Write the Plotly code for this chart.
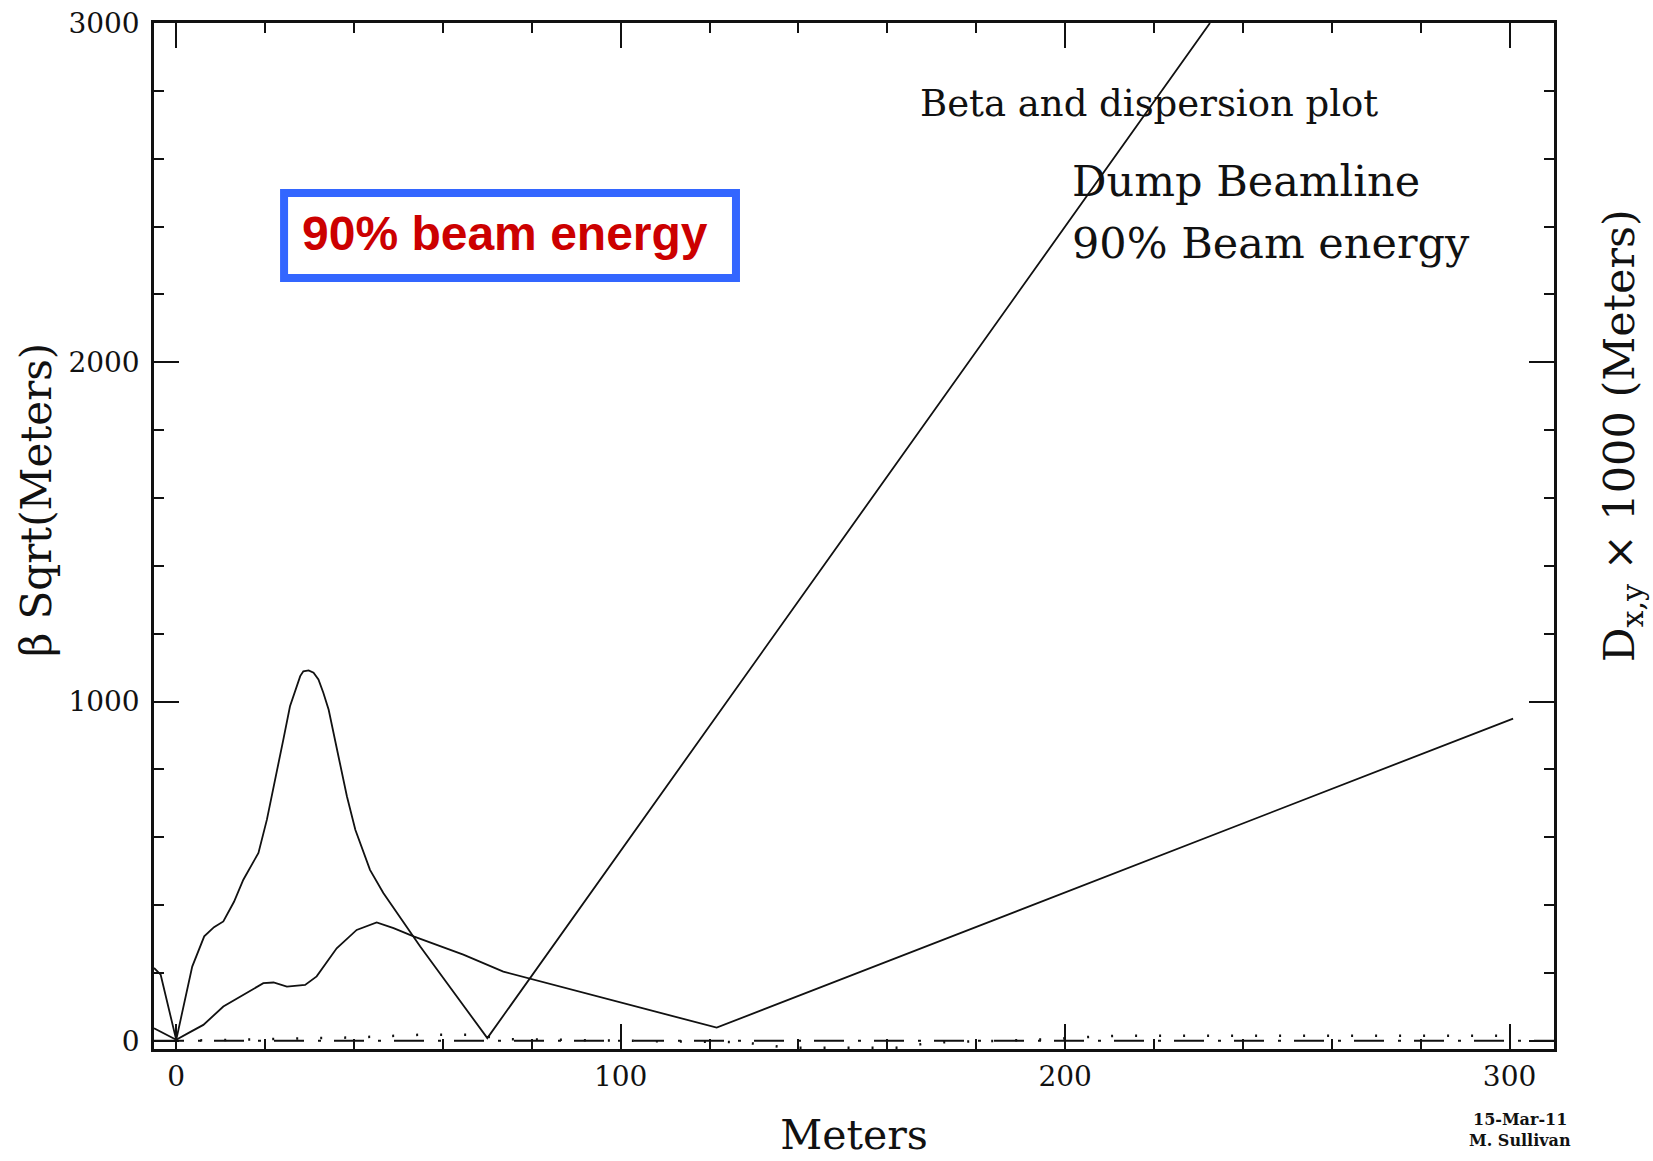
import plotly.graph_objects as go

# ---- data ----
beta1_s = [-5, -3.5, 0, 3.6, 6.3, 8.5, 10.6, 13, 15.1, 18.5, 20.4, 22.3, 24.1, 25.6, 26.8,
           27.9, 28.6, 29.8, 30.9, 32.0, 33.1, 34.3, 36.5, 38.4, 40.3, 43.6, 46.6, 54.9, 70, 232.6]
beta1_v = [215, 195, 3, 219, 308, 335, 352, 410, 475, 554, 652, 770, 888, 986, 1035,
           1075, 1089, 1092, 1085, 1065, 1026, 976, 839, 721, 622, 504, 436, 278, 8, 3000]

beta2_s = [-5, 0, 3, 6.1, 10.6, 15.1, 19.6, 21.9, 24.9, 29.0, 31.6, 36.1, 40.6,
           45.1, 48.9, 53.4, 64.6, 73.6, 121.6, 300.8]
beta2_v = [37, 3, 25, 47, 101, 136, 170, 172, 160, 165, 190, 273, 327,
           349, 332, 308, 254, 204, 39, 950]

disp1_s = [-5, 0, 50, 100, 150, 200, 250, 310]
disp1_v = [0, 0, 0, 0, 0, 0, 0, 0]

disp2_s = [0, 40, 55, 66, 75, 100, 121, 126, 131, 137, 162, 168, 173, 184, 195, 206, 212, 300]
disp2_v = [0, 10, 18, 18, 5, 0, -2, -4, -9, -20, -20, -9, -4, 0, 4, 12, 15, 15]

x_ticks = [0, 100, 200, 300]
y_ticks = [0, 1000, 2000, 3000]

FONT = "DejaVu Serif"
BLK = "#111111"

fig = go.Figure()
fig.add_trace(go.Scatter(x=beta1_s, y=beta1_v, mode="lines",
                         line=dict(color=BLK, width=1.8), name="beta x"))
fig.add_trace(go.Scatter(x=beta2_s, y=beta2_v, mode="lines",
                         line=dict(color=BLK, width=1.8), name="beta y"))
fig.add_trace(go.Scatter(x=disp1_s, y=disp1_v, mode="lines",
                         line=dict(color=BLK, width=2, dash="30px,14px,3px,13px"), name="Dx"))
fig.add_trace(go.Scatter(x=disp2_s, y=disp2_v, mode="lines",
                         line=dict(color=BLK, width=2.5, dash="2px,22px"), name="Dy"))

axis_common = dict(
    showgrid=False, zeroline=False, showline=True, linecolor=BLK, linewidth=2.5,
    mirror="ticks", ticks="inside", ticklen=25, tickwidth=2, tickcolor=BLK,
    tickfont=dict(family=FONT, size=28, color=BLK), automargin=False,
)

fig.update_layout(
    width=1653, height=1161,
    margin=dict(l=154, r=99, t=23, b=112),
    paper_bgcolor="white", plot_bgcolor="white",
    showlegend=False,
    xaxis=dict(range=[-5, 310], tickvals=x_ticks, ticklabelstandoff=1,
               minor=dict(dtick=20, tick0=0, ticklen=10, tickwidth=1.5, ticks="inside", tickcolor=BLK),
               title=dict(text="Meters", font=dict(family=FONT, size=41, color=BLK), standoff=28),
               **axis_common),
    yaxis=dict(range=[-24, 3000], tickvals=y_ticks, ticklabelstandoff=6,
               minor=dict(dtick=200, tick0=0, ticklen=10, tickwidth=1.5, ticks="inside", tickcolor=BLK),
               **axis_common),
)

# left axis title (placed above plot centre as in the reference)
fig.add_annotation(xref="paper", yref="paper", x=-0.0843, y=0.535, textangle=-90,
                   text="β Sqrt(Meters)", showarrow=False,
                   font=dict(family=FONT, size=42, color=BLK), xanchor="center", yanchor="middle")

# right axis title
fig.add_annotation(xref="paper", yref="paper", x=1.049, y=0.598, textangle=-90,
                   text="D<sub>x,y</sub> × 1000 (Meters)", showarrow=False,
                   font=dict(family=FONT, size=43, color=BLK), xanchor="center", yanchor="middle")

# header texts
fig.add_annotation(xref="paper", yref="paper", x=0.546, y=0.922, xanchor="left", yanchor="middle",
                   text="Beta and dispersion plot", showarrow=False,
                   font=dict(family=FONT, size=37, color=BLK))
fig.add_annotation(xref="paper", yref="paper", x=0.654, y=0.846, xanchor="left", yanchor="middle",
                   text="Dump Beamline", showarrow=False,
                   font=dict(family=FONT, size=43, color=BLK))
fig.add_annotation(xref="paper", yref="paper", x=0.654, y=0.7855, xanchor="left", yanchor="middle",
                   text="90% Beam energy", showarrow=False,
                   font=dict(family=FONT, size=43, color=BLK))

# highlighted box
fig.add_shape(type="rect", xref="paper", yref="paper", x0=0.0929, x1=0.4157, y0=0.7515, y1=0.8343,
              line=dict(color="#3366FF", width=8), fillcolor="white", layer="above")
fig.add_annotation(xref="paper", yref="paper", x=0.2505, y=0.795, xanchor="center", yanchor="middle",
                   text="<b>90% beam energy</b>", showarrow=False,
                   font=dict(family="Liberation Sans", size=48, color="#CC0000"))

# date / author
fig.add_annotation(xref="paper", yref="paper", x=0.9757, y=-0.069, xanchor="center", yanchor="middle",
                   text="<b>15-Mar-11</b>", showarrow=False,
                   font=dict(family=FONT, size=16, color=BLK))
fig.add_annotation(xref="paper", yref="paper", x=0.9757, y=-0.0887, xanchor="center", yanchor="middle",
                   text="<b>M. Sullivan</b>", showarrow=False,
                   font=dict(family=FONT, size=16, color=BLK))

fig.write_html("out.html")
